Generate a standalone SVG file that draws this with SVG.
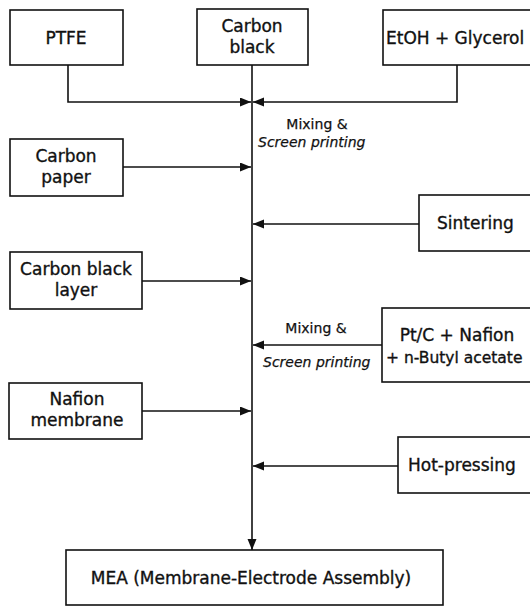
<svg xmlns="http://www.w3.org/2000/svg" width="530" height="606" viewBox="0 0 530 606">
<style>
.box{fill:#fff;stroke:#111;stroke-width:1.6}
.t{font-family:"DejaVu Sans","Liberation Sans",sans-serif;font-size:17px;fill:#111;stroke:#111;stroke-width:0.35;text-anchor:middle}
.ts{text-anchor:start}
.lab{font-family:"DejaVu Sans","Liberation Sans",sans-serif;font-size:14px;fill:#111;stroke:#111;stroke-width:0.25}
.it{font-style:italic}
.c{fill:none;stroke:#111;stroke-width:1.6}
</style>
<defs>
<marker id="ah" markerUnits="userSpaceOnUse" markerWidth="12" markerHeight="10" refX="11" refY="4.5" orient="auto">
<path d="M0,0 L11,4.5 L0,9 z" fill="#111"/>
</marker>
</defs>
<rect width="530" height="606" fill="#fff"/>
<g id="connectors">
<path class="c" d="M68,65 V102 H251" marker-end="url(#ah)"/>
<path class="c" d="M457,65 V102 H253" marker-end="url(#ah)"/>
<path class="c" d="M252,65 V550" marker-end="url(#ah)"/>
<path class="c" d="M123,167 H251" marker-end="url(#ah)"/>
<path class="c" d="M419,224 H253" marker-end="url(#ah)"/>
<path class="c" d="M142,281 H251" marker-end="url(#ah)"/>
<path class="c" d="M382,345 H253" marker-end="url(#ah)"/>
<path class="c" d="M142,411 H251" marker-end="url(#ah)"/>
<path class="c" d="M398,466 H253" marker-end="url(#ah)"/>
<text class="lab" x="317" y="129" text-anchor="middle">Mixing &amp;</text>
<text class="lab it" x="258" y="147">Screen printing</text>
<text class="lab" x="316" y="333" text-anchor="middle">Mixing &amp;</text>
<text class="lab it" x="263" y="367">Screen printing</text>
</g>
<g id="ptfe">
<rect class="box" x="10" y="10" width="113" height="55"/>
<text class="t" x="66" y="44">PTFE</text>
</g>
<g id="carbon-black">
<rect class="box" x="197" y="9" width="111" height="56"/>
<text class="t" x="252" y="32">Carbon</text>
<text class="t" x="252" y="53">black</text>
</g>
<g id="etoh-glycerol">
<rect class="box" x="383" y="10" width="160" height="55"/>
<text class="t ts" x="386" y="44">EtOH + Glycerol</text>
</g>
<g id="carbon-paper">
<rect class="box" x="10" y="139" width="113" height="57"/>
<text class="t" x="66" y="162">Carbon</text>
<text class="t" x="66" y="183">paper</text>
</g>
<g id="sintering">
<rect class="box" x="419" y="195" width="130" height="56"/>
<text class="t ts" x="437" y="229">Sintering</text>
</g>
<g id="carbon-black-layer">
<rect class="box" x="10" y="252" width="132" height="57"/>
<text class="t" x="76" y="275">Carbon black</text>
<text class="t" x="76" y="296">layer</text>
</g>
<g id="ptc-nafion">
<rect class="box" x="382" y="308" width="160" height="74"/>
<text class="t" x="457" y="341">Pt/C + Nafion</text>
<text class="t ts" x="386" y="363" style="font-size:15.5px">+ n-Butyl acetate</text>
</g>
<g id="nafion-membrane">
<rect class="box" x="9" y="383" width="133" height="56"/>
<text class="t" x="77" y="405">Nafion</text>
<text class="t" x="77" y="426">membrane</text>
</g>
<g id="hot-pressing">
<rect class="box" x="398" y="437" width="150" height="56"/>
<text class="t ts" x="408" y="471">Hot-pressing</text>
</g>
<g id="mea">
<rect class="box" x="66" y="550" width="377" height="55"/>
<text class="t" x="251" y="584">MEA (Membrane-Electrode Assembly)</text>
</g>
</svg>
